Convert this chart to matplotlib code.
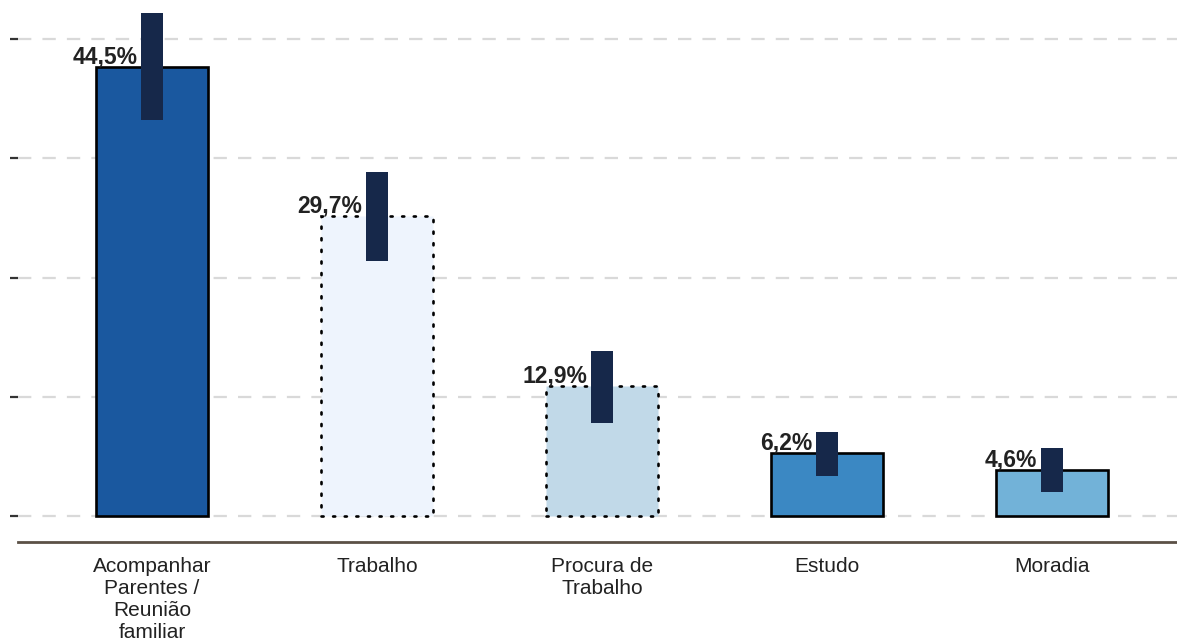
import matplotlib

matplotlib.use("Agg")
import matplotlib.pyplot as plt  # noqa: E402
import numpy as np  # noqa: E402

plt.rcParams["font.family"] = ["Liberation Sans", "DejaVu Sans"]

CATEGORIES = [
    "Acompanhar\nParentes /\nReunião\nfamiliar",
    "Trabalho",
    "Procura de\nTrabalho",
    "Estudo",
    "Moradia",
]
VALUES = [44.5, 29.7, 12.9, 6.2, 4.6]
CI_LOW = [39.2, 25.3, 9.2, 4.0, 2.4]
CI_HIGH = [49.8, 34.1, 16.3, 8.3, 6.7]
COLORS = ["#1a589f", "#eef4fd", "#c1d9e8", "#3b88c3", "#72b2d8"]
EDGE_STYLES = ["solid", (0, (0.8, 3.6)), (0, (0.8, 3.6)), "solid", "solid"]
YTICKS = [0, 11.8, 23.6, 35.4, 47.2]


def main() -> None:
    fig = plt.figure(figsize=(11.77, 6.43), dpi=100)
    ax = fig.add_axes([18 / 1177, 1 - 542 / 643, 1 - 18 / 1177, (542 - 8) / 643])

    x = np.arange(len(CATEGORIES))
    for xi, v, c, ls in zip(x, VALUES, COLORS, EDGE_STYLES):
        b = ax.bar(xi, v, 0.5, color=c, edgecolor="black", linewidth=1.9,
                   linestyle=ls, zorder=2)
        b[0].set_capstyle("round")
    ax.bar(x, np.array(CI_HIGH) - np.array(CI_LOW), 0.1, bottom=CI_LOW,
           color="#16284a", zorder=3)

    for xi, v in zip(x, VALUES):
        ax.text(xi - 0.065, v + 0.35, f"{v:.1f}%".replace(".", ","),
                ha="right", va="baseline", fontsize=16.5, fontweight="bold",
                color="#222222", zorder=4)

    ax.set_xlim(-0.596, 4.556)
    ax.set_ylim(-2.57, 50.3)
    ax.set_yticks(YTICKS)
    ax.set_yticklabels([])
    ax.grid(axis="y", color="#d9d9d9", linestyle=(0, (6, 5)), linewidth=1.6, zorder=0)
    ax.tick_params(axis="y", length=6, width=1.6, color="#333333", direction="out")
    ax.set_xticks(x)
    ax.set_xticklabels(CATEGORIES, fontsize=15, color="#222222", linespacing=1.2,
                       va="top")
    ax.tick_params(axis="x", length=0, pad=11)
    ax.spines[["top", "right", "left"]].set_visible(False)
    ax.spines["bottom"].set_color("#5b5046")
    ax.spines["bottom"].set_linewidth(2)

    fig.savefig("out.png", dpi=100)


if __name__ == "__main__":
    main()
